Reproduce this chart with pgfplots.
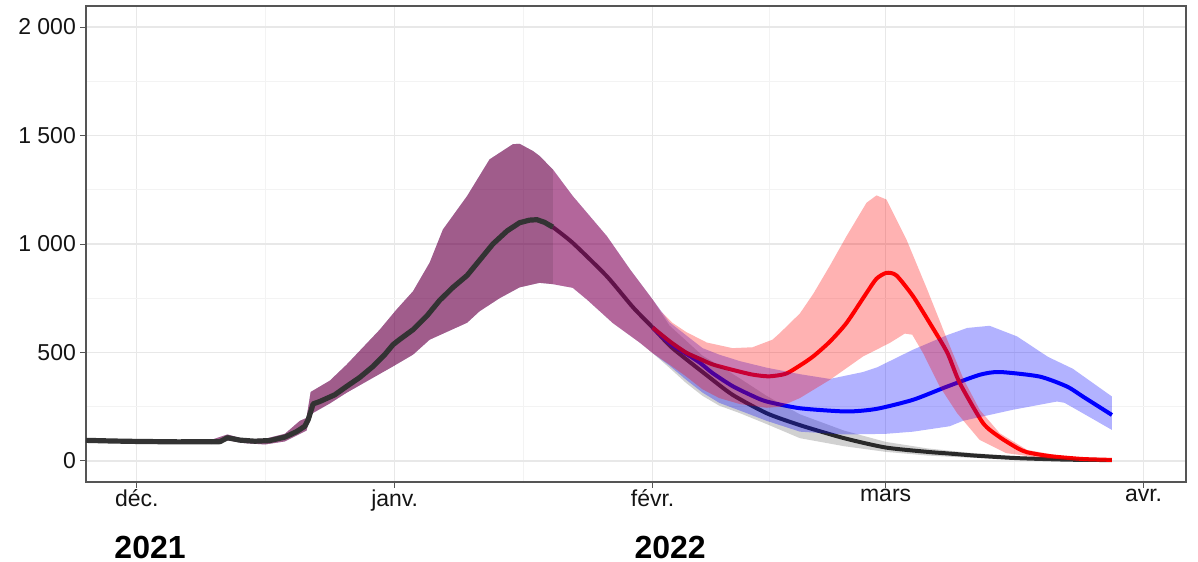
\documentclass[border=0pt]{standalone}
\usepackage{fontspec}
\setmainfont{Liberation Sans}
\usepackage{pgfplots}
\pgfplotsset{compat=1.18}
\definecolor{gridmaj}{RGB}{232,232,232}
\definecolor{gridmin}{RGB}{243,243,243}
\definecolor{frame}{RGB}{85,85,85}
\definecolor{obs}{RGB}{51,51,51}
\definecolor{ticktext}{RGB}{20,20,20}
\begin{document}
\begin{tikzpicture}
\begin{axis}[name=ax, scale only axis, width=550bp, height=238bp,
 xmin=-6.1, xmax=126.1, ymin=-97, ymax=2097,
 xtick={0,31,62,90,121}, xticklabels={déc.,janv.,févr.,mars,avr.},
 ytick={0,500,1000,1500,2000}, yticklabels={0,500,1~000,1~500,2~000},
 minor xtick={15.5,46.5,76,105.5}, minor ytick={250,750,1250,1750},
 grid=both, major grid style={gridmaj, line width=0.7bp},
 minor grid style={gridmin, line width=0.45bp},
 tick pos=left, tick align=outside, major tick length=2.75bp, minor tick length=0pt,
 tick style={frame, line width=0.5bp},
 axis line style={frame, line width=0.6bp},
 ticklabel style={font=\fontsize{11.5bp}{13bp}\selectfont, text=ticktext},
 yticklabel style={xshift=1.2bp},
 xticklabel style={yshift=2.5bp},
 clip=false]

% scenario lines (drawn below the bands)
\addplot[obs, line width=2bp, smooth, tension=0.4] coordinates {(50,1078)(52.4,1005)(56.5,851)(59.6,710)(62,615)(64.1,530)(66,470)(68.5,395)(71.6,305)(75.7,220)(79.7,165)(85,105)(90,62)(95,42)(97.7,34)(101,24)(105.8,13)(111.8,6)(117.2,4)};
\addplot[blue, line width=2bp, smooth, tension=0.4] coordinates {(62,615)(64.1,540)(66,495)(67.7,452)(69.2,405)(71.6,345)(74,300)(75.7,274)(79.7,243)(85.3,228)(88.9,240)(93.3,282)(97.4,343)(101.3,397)(103.7,410)(108.5,389)(111.8,343)(113.7,297)(117.2,212)};
\addplot[red, line width=2bp, smooth, tension=0.4] coordinates {(62,615)(64.1,550)(66,500)(67.7,470)(69.2,445)(71.6,420)(74,398)(76,390)(78,402)(79.7,440)(81.3,482)(83.3,550)(85.3,636)(87.7,774)(88.9,840)(90.1,867)(91.3,855)(93.3,759)(95.3,636)(97.4,500)(98.9,360)(101.7,175)(103.7,110)(105.8,60)(107,40)(109.8,22)(113.7,9)(117.2,5)};

% grey band
\addplot[draw=none, fill=black, fill opacity=0.18] coordinates {(9,98)(10.9,122)(13,100)(15.4,102)(17.8,125)(19.6,185)(20.4,198)(20.9,318)(23.2,370)(25.2,443)(29.2,605)(31.2,697)(33.2,782)(35.2,914)(36.8,1067)(39.7,1221)(42.4,1390)(45.2,1460)(46,1462)(47.6,1429)(48.4,1406)(50,1344)(52.4,1221)(56.5,1036)(59.3,882)(62,744)
(64,625)(66,555)(68,485)(70,440)(72.5,380)(75.7,300)(79.7,215)(85,140)(90,88)(95,58)(100,38)(105,24)(110,15)(117.2,8)
(117.2,2)(110,5)(105,9)(100,15)(95,25)(90,42)(85,68)(79.7,105)(75.7,170)(72.5,220)(70,255)(68,300)(66,360)(64,430)
(62,497)(60.5,544)(57.2,636)(54.1,744)(52.4,798)(50,815)(48.4,821)(46,800)(43.6,750)(41.2,690)(39.7,637)(35.2,559)(33.2,490)(30.8,436)(25.2,314)(23.2,265)(20.9,215)(20.4,140)(19.6,125)(17.8,90)(15.4,76)(13,82)(10.9,95)(9,78)} -- cycle;

% blue band
\addplot[draw=none, fill=blue, fill opacity=0.3] coordinates {(9,98)(10.9,122)(13,100)(15.4,102)(17.8,125)(19.6,185)(20.4,198)(20.9,318)(23.2,370)(25.2,443)(29.2,605)(31.2,697)(33.2,782)(35.2,914)(36.8,1067)(39.7,1221)(42.4,1390)(45.2,1460)(46,1462)(47.6,1429)(48.4,1406)(50,1344)(52.4,1221)(56.5,1036)(59.3,882)(62,744)
(64,640)(66,580)(68,520)(70,490)(72.5,460)(75.7,430)(79.7,400)(83.3,378)(87.3,410)(89,432)(93.3,513)(97.4,580)(99.8,613)(102.5,623)(105.8,574)(109.5,480)(112.5,425)(117.2,297)
(117.2,143)(113.7,220)(111.5,268)(110.6,274)(105.3,236)(99.3,185)(97.7,160)(93.3,135)(90,125)(85,122)(79.7,135)(75.7,185)(72.5,232)(70,268)(68,315)(66,375)(64,440)
(62,497)(60.5,544)(57.2,636)(54.1,744)(52.4,798)(50,815)(48.4,821)(46,800)(43.6,750)(41.2,690)(39.7,637)(35.2,559)(33.2,490)(30.8,436)(25.2,314)(23.2,265)(20.9,215)(20.4,140)(19.6,125)(17.8,90)(15.4,76)(13,82)(10.9,95)(9,78)} -- cycle;

% red band
\addplot[draw=none, fill=red, fill opacity=0.3] coordinates {(9,98)(10.9,122)(13,100)(15.4,102)(17.8,125)(19.6,185)(20.4,198)(20.9,318)(23.2,370)(25.2,443)(29.2,605)(31.2,697)(33.2,782)(35.2,914)(36.8,1067)(39.7,1221)(42.4,1390)(45.2,1460)(46,1462)(47.6,1429)(48.4,1406)(50,1344)(52.4,1221)(56.5,1036)(59.3,882)(62,744)
(63,690)(64.4,636)(66,595)(68.5,546)(71.6,520)(74,524)(76.4,559)(77.3,590)(79.7,680)(81.3,770)(83.3,900)(85.3,1036)(87.7,1190)(88.9,1224)(90.1,1205)(92.5,1021)(95,790)(97.4,559)(99.4,374)(101.3,236)(103.7,128)(107,51)(111.8,18)(117.2,11)
(117.2,2)(109.4,11)(104.5,36)(101.3,97)(98.6,220)(96.5,343)(94.5,497)(93.2,582)(92.3,587)(90.5,544)(87.3,482)(83.3,374)(79.7,290)(77.3,250)(75.7,245)(72.5,262)(70,290)(68,330)(66,390)(64,445)
(62,497)(60.5,544)(57.2,636)(54.1,744)(52.4,798)(50,815)(48.4,821)(46,800)(43.6,750)(41.2,690)(39.7,637)(35.2,559)(33.2,490)(30.8,436)(25.2,314)(23.2,265)(20.9,215)(20.4,140)(19.6,125)(17.8,90)(15.4,76)(13,82)(10.9,95)(9,78)} -- cycle;

% observed-period band
\addplot[draw=none, fill=black, fill opacity=0.1] coordinates {(9,98)(10.9,122)(13,100)(15.4,102)(17.8,125)(19.6,185)(20.4,198)(20.9,318)(23.2,370)(25.2,443)(29.2,605)(31.2,697)(33.2,782)(35.2,914)(36.8,1067)(39.7,1221)(42.4,1390)(45.2,1460)(46,1462)(47.6,1429)(48.4,1406)(50,1344)
(50,815)(48.4,821)(46,800)(43.6,750)(41.2,690)(39.7,637)(35.2,559)(33.2,490)(30.8,436)(25.2,314)(23.2,265)(20.9,215)(20.4,140)(19.6,125)(17.8,90)(15.4,76)(13,82)(10.9,95)(9,78)} -- cycle;

% observed line
\addplot[obs, line width=2.6bp, line join=round] coordinates {(-6.1,95)(-3,92)(0,90)(5,88)(10,89)(10.9,107)(12.4,96)(14.2,91)(16,94)(17.8,110)(19.2,135)(20.2,160)(20.6,190)(21.2,263)(22,274)(23.8,305)(25.2,343)(26.8,385)(28.4,436)(29.8,490)(30.8,536)(31.6,560)(33.2,605)(34.9,670)(36.4,740)(38,800)(39.7,855)(41.2,925)(42.8,1000)(44.5,1060)(46,1098)(47.2,1110)(48.1,1112)(49,1100)(50,1078)};

\node[font=\fontsize{16bp}{18bp}\selectfont\bfseries] at (axis cs:1.6,-397) {2021};
\node[font=\fontsize{16bp}{18bp}\selectfont\bfseries] at (axis cs:64.1,-397) {2022};
\end{axis}
\pgfresetboundingbox
\path[use as bounding box] ([shift={(-43bp,-40bp)}]ax.south west) rectangle ([shift={(6bp,3bp)}]ax.north east);
\end{tikzpicture}
\end{document}
